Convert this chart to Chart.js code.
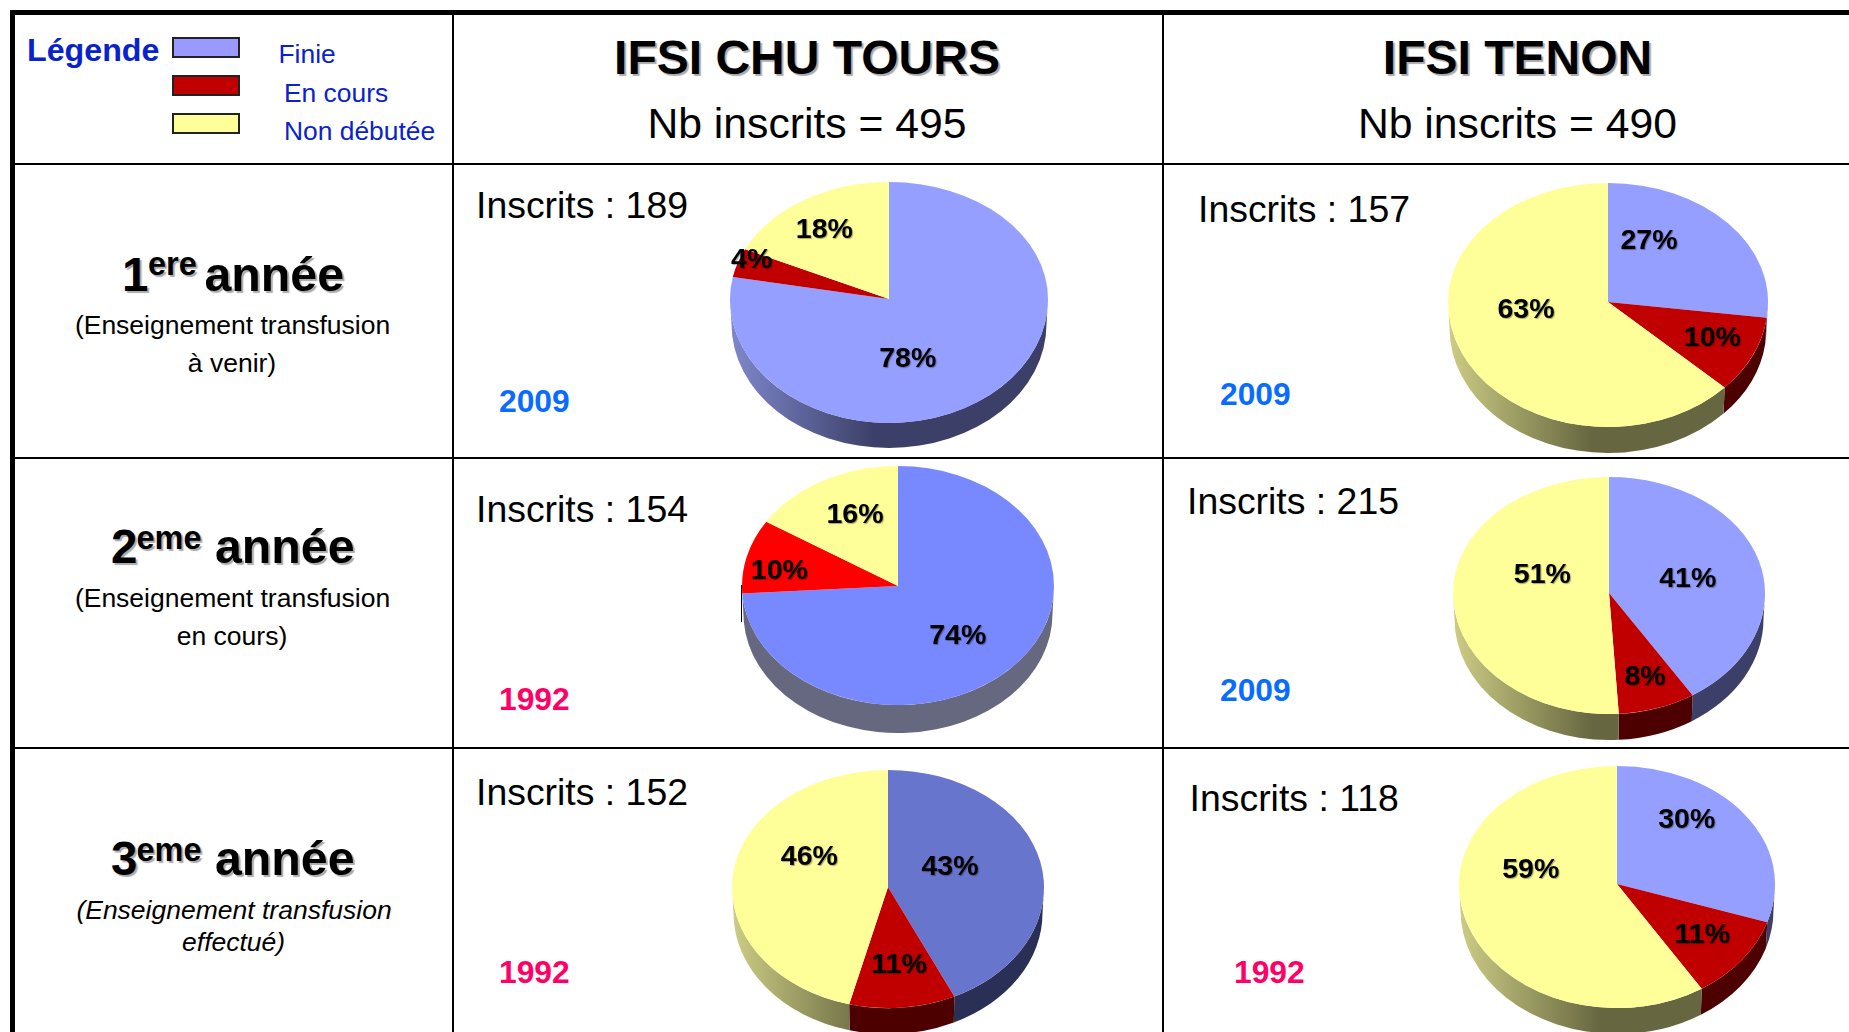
<!DOCTYPE html>
<html lang="fr">
<head>
<meta charset="utf-8">
<title>IFSI CHU TOURS / IFSI TENON</title>
<script src="https://cdn.jsdelivr.net/npm/chart.js@4"></script>
<style>
  html, body { margin: 0; padding: 0; background: #fff; width: 1849px; height: 1032px; overflow: hidden; }
  body { position: relative; font-family: "Liberation Sans", Arial, sans-serif; color: #000; }
  .t { position: absolute; white-space: nowrap; line-height: 1; }
  .r { position: absolute; background: #000; }
  .sw { position: absolute; box-sizing: border-box; border: 2px solid #222; }
  canvas { position: absolute; }
</style>
</head>
<body>
<script>
// ---- Values (percent of students per state) ----
const categories = ['Finie', 'En cours', 'Non débutée'];
const finie      = [78, 27, 74, 41, 43, 30];
const enCours    = [ 4, 10, 10,  8, 11, 11];
const nonDebutee = [18, 63, 16, 51, 46, 59];
const inscrits   = [189, 157, 154, 215, 152, 118];
const annees     = ['2009', '2009', '1992', '2009', '1992', '1992'];
const ecoles     = ['IFSI CHU TOURS', 'IFSI TENON'];
const totaux     = [495, 490];

// ---- Styles per pie (same order as the values) ----
const couleursFinie = ['#949FFF', '#949FFF', '#7889FF', '#949FFF', '#6875CC', '#949FFF'];
const couleursCours = ['#C00000', '#C00000', '#FF0000', '#C00000', '#C00000', '#C00000'];
const couleurJaune  = '#FFFF99';
const couleursAnnee = { '2009': '#0A6CFF', '1992': '#FF0066' };
const flancs = [
  { bleu: ['#7F88CC', '#3C4068'], rouge: ['#4D0000', '#4D0000'], jaune: ['#CDCD85', '#666640'] },
  { bleu: ['#7F88CC', '#3C4068'], rouge: ['#4D0000', '#4D0000'], jaune: ['#CDCD85', '#666640'] },
  { bleu: ['#666880', '#666880'], rouge: ['#666880', '#666880'], jaune: ['#666880', '#666880'] },
  { bleu: ['#7F88CC', '#3C4068'], rouge: ['#4D0000', '#4D0000'], jaune: ['#CDCD85', '#666640'] },
  { bleu: ['#5A62A0', '#2A2F55'], rouge: ['#4D0000', '#4D0000'], jaune: ['#CDCD85', '#666640'] },
  { bleu: ['#7F88CC', '#3C4068'], rouge: ['#4D0000', '#4D0000'], jaune: ['#CDCD85', '#666640'] }
];

// ---- Layout per pie ----
const disposition = [
  { cx: 889,  cy: 299, rx: 159, haut: 117, bas: 124, ep: 25, lab: [[907.7,358],[751.7,258.3],[824.3,228.3]], ix: 476,    iy: 218,   ax: 499,  ay: 411.6 },
  { cx: 1608, cy: 302, rx: 160, haut: 119, bas: 125, ep: 26, lab: [[1649,240],[1712.3,336.7],[1526,308.3]],  ix: 1198,   iy: 221.7, ax: 1220, ay: 405 },
  { cx: 898,  cy: 586, rx: 156, haut: 120, bas: 119, ep: 28, lab: [[957.7,635],[779.3,570],[855,513.3]],     ix: 476,    iy: 521.4, ax: 499,  ay: 709.7 },
  { cx: 1609, cy: 593, rx: 156, haut: 116, bas: 121, ep: 26, lab: [[1687.7,577.7],[1645,675.7],[1542.3,573.3]], ix: 1187, iy: 514,   ax: 1220, ay: 700.7 },
  { cx: 888,  cy: 887, rx: 156, haut: 117, bas: 121, ep: 26, lab: [[950,865.7],[899,963.3],[809.3,856]],      ix: 476,    iy: 804.7, ax: 499,  ay: 983 },
  { cx: 1617, cy: 884, rx: 158, haut: 118, bas: 124, ep: 26, lab: [[1686.7,819],[1702.3,933.3],[1530.7,869]], ix: 1189.6, iy: 811,   ax: 1234, ay: 983 }
];

// ---- Page furniture: rules and real text ----
const ASC = 0.8465;
function put(text, x, y, size, o) {
  o = o || {};
  const s = document.createElement('div');
  s.className = 't';
  s.textContent = text;
  s.style.left = x + 'px';
  s.style.top = (y + 1 - ASC * size) + 'px';
  s.style.fontSize = size + 'px';
  if (o.bold) s.style.fontWeight = 'bold';
  if (o.italic) s.style.fontStyle = 'italic';
  if (o.color) s.style.color = o.color;
  if (o.center) s.style.transform = 'translateX(-50%)';
  if (o.shadow) s.style.textShadow = '2px 2px 1px #aaa';
  document.body.appendChild(s);
}
function rule(x, y, w, h) {
  const d = document.createElement('div');
  d.className = 'r';
  d.style.cssText = `left:${x}px;top:${y}px;width:${w}px;height:${h}px`;
  document.body.appendChild(d);
}
rule(10, 10, 1839, 5);
rule(10, 10, 5, 1022);
rule(452, 14, 2, 1018);
rule(1162, 14, 2, 1018);
rule(14, 163, 1835, 2);
rule(14, 457, 1835, 2);
rule(14, 747, 1835, 2);
rule(741, 585, 1, 37);

// Legend
const bleuLegende = '#0A22CC';
put('Légende', 27, 60.5, 32.2, { bold: true, color: bleuLegende });
const legendeCouleurs = ['#9999FF', '#C00000', '#FFFF99'];
const legendeY = [37, 75, 113];
const legendeTexteX = [278.5, 284, 284];
const legendeTexteY = [62, 101.7, 139];
categories.forEach((c, i) => {
  const d = document.createElement('div');
  d.className = 'sw';
  d.style.cssText = `left:172px;top:${legendeY[i]}px;width:68px;height:21px;background:${legendeCouleurs[i]}`;
  document.body.appendChild(d);
  put(c, legendeTexteX[i], legendeTexteY[i], 26.4, { color: bleuLegende });
});

// Column headers
const enteteX = [807, 1517.5];
ecoles.forEach((e, i) => {
  put(e, enteteX[i], 74, 48, { bold: true, center: true, shadow: true });
  put('Nb inscrits = ' + totaux[i], enteteX[i], 137.5, 42.7, { center: true });
});

// Row headers
put('1', 122, 290, 47.5, { bold: true, shadow: true });
put('ere', 148, 275, 32.5, { bold: true, shadow: true });
put('année', 204.5, 290, 48.3, { bold: true, shadow: true });
put('2', 111, 561.8, 47.5, { bold: true, shadow: true });
put('eme', 136.5, 549, 32.5, { bold: true, shadow: true });
put('année', 215, 561.8, 48.3, { bold: true, shadow: true });
put('3', 111, 874, 47.5, { bold: true, shadow: true });
put('eme', 136.5, 861, 32.5, { bold: true, shadow: true });
put('année', 215, 874, 48.3, { bold: true, shadow: true });
put('(Enseignement transfusion', 232.5, 333, 26.5, { center: true });
put('à venir)', 232, 371, 26.5, { center: true });
put('(Enseignement transfusion', 232.5, 606, 26.5, { center: true });
put('en cours)', 232, 644, 26.5, { center: true });
put('(Enseignement transfusion', 234, 918, 26.5, { center: true, italic: true });
put('effectué)', 233.6, 950.6, 26.5, { center: true, italic: true });

// ---- Pies ----
const pie3d = {
  id: 'pie3d',
  beforeDatasetsDraw(chart, args, opts) {
    const g = opts.geo, f = opts.flanc, ctx = chart.ctx;
    const arcs = chart.getDatasetMeta(0).data;
    const cx = arcs[0].x, cy = arcs[0].y;
    const noms = ['bleu', 'rouge', 'jaune'];
    // side wall: only the part of each slice facing the viewer
    arcs.forEach((a, i) => {
      const s = Math.max(a.startAngle, 0), e = Math.min(a.endAngle, Math.PI);
      if (e <= s) return;
      const grad = ctx.createLinearGradient(cx - g.rx, 0, cx + g.rx, 0);
      grad.addColorStop(0, f[noms[i]][0]);
      grad.addColorStop(0.45, f[noms[i]][1]);
      grad.addColorStop(1, f[noms[i]][1]);
      ctx.beginPath();
      ctx.ellipse(cx, cy, a.outerRadius, g.bas, 0, s, e, false);
      ctx.ellipse(cx, cy + g.ep, a.outerRadius - 1.5, g.bas, 0, e, s, true);
      ctx.closePath();
      ctx.fillStyle = grad;
      ctx.fill();
    });
    // top face: the library's arcs, flattened (a little less above the hub)
    [[0, cy, g.haut], [cy, chart.height - cy, g.bas]].forEach(([y0, h, ry]) => {
      ctx.save();
      ctx.beginPath();
      ctx.rect(0, y0, chart.width, h);
      ctx.clip();
      ctx.translate(cx, cy);
      ctx.scale(1, ry / g.rx);
      ctx.translate(-cx, -cy);
      arcs.forEach(a => a.draw(ctx));
      ctx.restore();
    });
    return false;
  },
  afterDraw(chart, args, opts) {
    const g = opts.geo, ctx = chart.ctx, vals = chart.data.datasets[0].data;
    ctx.save();
    ctx.font = 'bold 28.5px "Liberation Sans", Arial, sans-serif';
    ctx.textAlign = 'center';
    ctx.textBaseline = 'middle';
    ctx.fillStyle = '#000';
    ctx.shadowColor = 'rgba(0,0,0,0.35)';
    ctx.shadowOffsetX = 1;
    ctx.shadowOffsetY = 1;
    ctx.shadowBlur = 1;
    vals.forEach((v, i) => {
      const left = parseFloat(chart.canvas.style.left), top = parseFloat(chart.canvas.style.top);
      ctx.fillText(v + '%', g.lab[i][0] - left, g.lab[i][1] - top + 1.5);
    });
    ctx.restore();
  }
};

disposition.forEach((g, i) => {
  put('Inscrits : ' + inscrits[i], g.ix, g.iy, 37.4);
  put(annees[i], g.ax, g.ay, 31.8, { bold: true, color: couleursAnnee[annees[i]] });

  const pad = 4, side = 2 * (g.rx + pad);
  const c = document.createElement('canvas');
  c.width = side; c.height = side;
  c.style.width = side + 'px'; c.style.height = side + 'px';
  c.style.left = (g.cx - g.rx - pad) + 'px';
  c.style.top = (g.cy - g.rx - pad) + 'px';
  document.body.appendChild(c);
  new Chart(c, {
    type: 'pie',
    data: {
      labels: categories,
      datasets: [{
        data: [finie[i], enCours[i], nonDebutee[i]],
        backgroundColor: [couleursFinie[i], couleursCours[i], couleurJaune],
        borderWidth: 0
      }]
    },
    options: {
      responsive: false,
      animation: false,
      layout: { padding: pad },
      plugins: {
        legend: { display: false },
        tooltip: { enabled: false },
        title: { display: false },
        pie3d: { geo: g, flanc: flancs[i] }
      }
    },
    plugins: [pie3d]
  });
});
</script>
</body>
</html>
